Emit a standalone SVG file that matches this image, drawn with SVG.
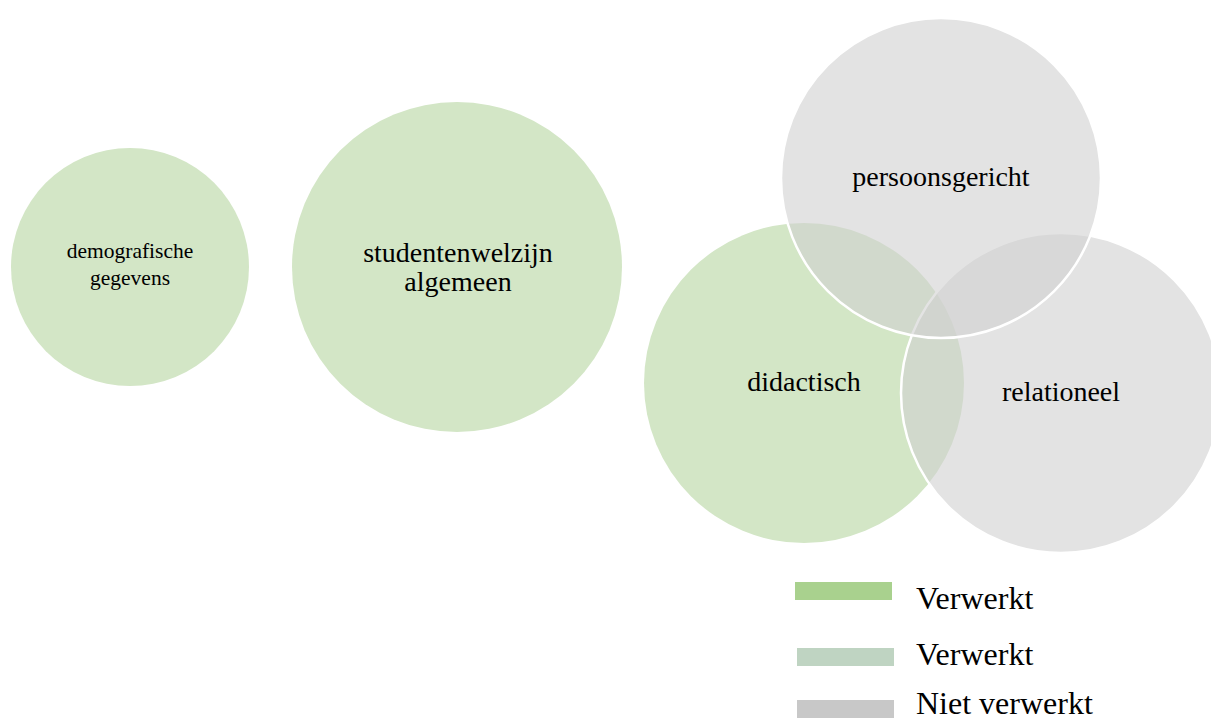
<svg xmlns="http://www.w3.org/2000/svg" width="1211" height="722" viewBox="0 0 1211 722">
<style>
.t{font-family:"Liberation Serif","Times New Roman",serif;fill:#000;text-anchor:middle}
.g{fill:#d3e6c6}
.gr{fill:#d0d0d0;fill-opacity:0.6;stroke:#fff;stroke-width:2.5}
.lg{font-family:"Liberation Serif","Times New Roman",serif;fill:#000;font-size:32px}
</style>
<rect width="1211" height="722" fill="#fff"/>
<g id="demografische">
<circle class="g" cx="130" cy="267" r="119"/>
<text class="t" x="130" y="258" font-size="21.5">demografische</text>
<text class="t" x="130" y="285" font-size="21.5">gegevens</text>
</g>
<g id="studentenwelzijn">
<circle class="g" cx="457" cy="267" r="165"/>
<text class="t" x="458" y="262" font-size="28">studentenwelzijn</text>
<text class="t" x="458" y="291" font-size="28">algemeen</text>
</g>
<g id="didactisch">
<circle class="g" cx="804" cy="383" r="160"/>
<text class="t" x="804" y="391" font-size="28">didactisch</text>
</g>
<g id="relationeel">
<circle class="gr" cx="1061" cy="393" r="160"/>
<text class="t" x="1061" y="401" font-size="28">relationeel</text>
</g>
<g id="persoonsgericht">
<circle class="gr" cx="941" cy="178" r="160"/>
<text class="t" x="941" y="186" font-size="28">persoonsgericht</text>
</g>
<g id="connectors"></g>
<g id="legend">
<rect x="795" y="582" width="97" height="18" fill="#a9d18e"/>
<text class="lg" x="916" y="609">Verwerkt</text>
<rect x="797" y="648" width="97" height="18" fill="#bfd4c2"/>
<text class="lg" x="916" y="665">Verwerkt</text>
<rect x="797" y="700" width="97" height="18" fill="#c8c8c8"/>
<text class="lg" x="916" y="714">Niet verwerkt</text>
</g>
</svg>
